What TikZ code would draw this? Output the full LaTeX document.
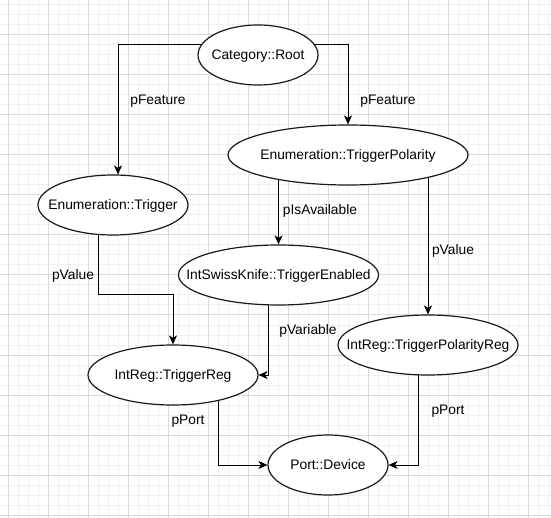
\documentclass[tikz,border=0pt]{standalone}
\usepackage{fontspec}
\setmainfont{Liberation Sans}
\usetikzlibrary{shapes.geometric,arrows.meta,backgrounds}
\definecolor{gridmaj}{HTML}{DADADA}
\definecolor{gridmin}{HTML}{F1F1F1}
\definecolor{edgecol}{HTML}{1A1A1A}
\begin{document}
\begin{tikzpicture}[x=1pt,y=-1pt,
  font=\fontsize{13.8}{16}\selectfont,
  ell/.style={ellipse, draw=edgecol, line width=1.2pt, fill=white, inner sep=0pt, minimum height=60pt, text height=9.9pt, text depth=0pt},
  conn/.style={draw=black, line width=1pt, -{Stealth[length=9pt,width=8pt,inset=2.5pt]}},
  lbl/.style={inner sep=0pt, text height=9.9pt, text depth=0pt}]
\useasboundingbox (0,0) rectangle (551,518);
\begin{pgfonlayer}{background}
  \fill[white] (0,0) rectangle (551,518);
  \foreach \i in {0,...,54} \draw[gridmin,line width=1pt] ({8.5+10*\i},0) -- ({8.5+10*\i},518);
  \foreach \i in {0,...,51} \draw[gridmin,line width=1pt] (0,{5+10*\i}) -- (551,{5+10*\i});
  \foreach \i in {0,...,13} \draw[gridmaj,line width=1pt] ({8.5+40*\i},0) -- ({8.5+40*\i},518);
  \foreach \i in {0,...,12} \draw[gridmaj,line width=1pt] (0,{35+40*\i}) -- (551,{35+40*\i});
\end{pgfonlayer}

\node[ell,minimum width=120pt] (root) at (258,55) {\makebox[0pt]{Category::Root}};
\node[ell,minimum width=240pt] (tp) at (348,155) {\makebox[0pt]{Enumeration::TriggerPolarity}};
\node[ell,minimum width=150pt] (trig) at (113,205) {\makebox[0pt]{Enumeration::Trigger}};
\node[ell,minimum width=200pt] (swiss) at (278.5,275) {\makebox[0pt]{IntSwissKnife::TriggerEnabled}};
\node[ell,minimum width=180pt] (tpreg) at (428,345) {\makebox[0pt]{IntReg::TriggerPolarityReg}};
\node[ell,minimum width=170pt] (treg) at (173,375) {\makebox[0pt]{IntReg::TriggerReg}};
\node[ell,minimum width=120pt] (dev) at (328,465) {\makebox[0pt]{Port::Device}};

\node[lbl] (l1) at (158,100) {pFeature};
\node[lbl] (l2) at (388,100) {pFeature};
\node[lbl] (l3) at (320,210) {pIsAvailable};
\node[lbl] (l4) at (453,250) {pValue};
\node[lbl] (l5) at (73,275) {pValue};
\node[lbl] (l6) at (308,330) {pVariable};
\node[lbl] (l7) at (188,420) {pPort};
\node[lbl] (l8) at (448,410) {pPort};

\begin{pgfonlayer}{background}
  \draw[conn] ([yshift=10pt]root.center) -| ([xshift=5pt]trig.north);
  \draw[conn] ([yshift=10pt]root.center) -| (tp.north);
  \draw[conn] (tp.center -| swiss.north) -- (swiss.north);
  \draw[conn] (tp.center -| tpreg.north) -- (tpreg.north);
  \draw[conn] ([xshift=-15pt]trig.center) |- ([yshift=50pt]treg.north) -- (treg.north);
  \draw[conn] ([xshift=-10.5pt]swiss.center) |- (treg.east);
  \draw[conn] ([xshift=45pt]treg.center) |- (dev.west);
  \draw[conn] ([xshift=-10pt]tpreg.center) |- (dev.east);
\end{pgfonlayer}
\end{tikzpicture}
\end{document}
